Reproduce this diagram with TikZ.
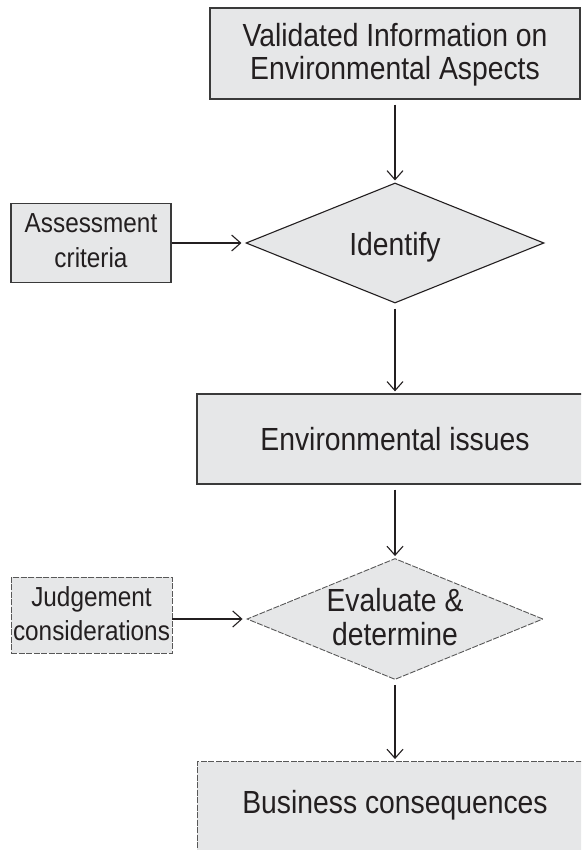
\documentclass[tikz,border=0pt]{standalone}
\usepackage{fontspec}
\setmainfont{Liberation Sans}[FakeStretch=0.885]
\usetikzlibrary{shapes.geometric,arrows.meta}
\definecolor{boxfill}{HTML}{E6E7E8}
\definecolor{ink}{HTML}{231F20}
\definecolor{edge}{HTML}{3A3A3A}
\begin{document}
\begin{tikzpicture}[x=1pt,y=-1pt,
  solidbox/.style={rectangle, draw=edge, line width=1.3pt, fill=boxfill, inner sep=0pt},
  dashbox/.style={rectangle, draw=edge!85, line width=0.9pt, dash pattern=on 6pt off 1.5pt, fill=boxfill, inner sep=0pt},
  soliddia/.style={diamond, draw=ink, line width=1.1pt, fill=boxfill, inner sep=0pt},
  dashdia/.style={diamond, draw=edge!85, line width=0.9pt, dash pattern=on 6pt off 1.5pt, fill=boxfill, inner sep=0pt},
  conn/.style={draw=ink, line width=1.1pt, shorten <=5pt, shorten >=2pt,
    -{Straight Barb[length=9pt,width=16pt,line width=1.1pt]}},
  bigtext/.style={font=\fontsize{32}{33}\selectfont, text=ink, align=center},
  smalltext/.style={font=\fontsize{27.5}{34.5}\selectfont, text=ink, align=center},
]
\useasboundingbox (0,0) rectangle (581,850);
\clip (0,0) rectangle (581,850);

% boxes
\node[solidbox, minimum width=370pt, minimum height=91pt] (top) at (395,53.5) {};
\node[bigtext, anchor=base] (topt) at (395,46.7) {Validated Information on};
\node[bigtext, anchor=base] (topt2) at (395,80) {Environmental Aspects};
\node[soliddia, minimum width=298pt, minimum height=120pt] (ident) at (395,243) {};
\node[bigtext, anchor=base] (identt) at (395,255) {Identify};
\node[solidbox, minimum width=160pt, minimum height=79pt] (assess) at (91,243) {};
\node[smalltext, anchor=base] (assesst) at (91,232.7) {Assessment};
\node[smalltext, anchor=base] (assesst2) at (91,267.3) {criteria};
\node[solidbox, minimum width=396pt, minimum height=90pt] (env) at (395,439) {};
\node[bigtext, anchor=base] (envt) at (395,450) {Environmental issues};
\node[dashdia, minimum width=296pt, minimum height=121pt] (eval) at (395,619) {};
\node[bigtext, anchor=base] (evalt) at (395,611) {Evaluate \&};
\node[bigtext, anchor=base] (evalt2) at (395,645) {determine};
\node[dashbox, minimum width=161pt, minimum height=76pt] (judge) at (91.5,615) {};
\node[smalltext, anchor=base] (judget) at (91.5,606) {Judgement};
\node[smalltext, anchor=base] (judget2) at (91.5,640.7) {considerations};
\node[dashbox, minimum width=396pt, minimum height=140pt] (biz) at (395,831.5) {};
\node[bigtext, anchor=base] (bizt) at (395,813) {Business consequences};

% connectors
\draw[conn] (top) -- (ident);
\draw[conn] (ident) -- (env);
\draw[conn] (env) -- (eval);
\draw[conn] (eval) -- (biz);
\draw[conn, shorten <=0pt, shorten >=4pt] (assess) -- (ident);
\draw[conn, shorten <=0pt, shorten >=4pt] (judge.east |- eval.west) -- (eval.west);
\end{tikzpicture}
\end{document}
